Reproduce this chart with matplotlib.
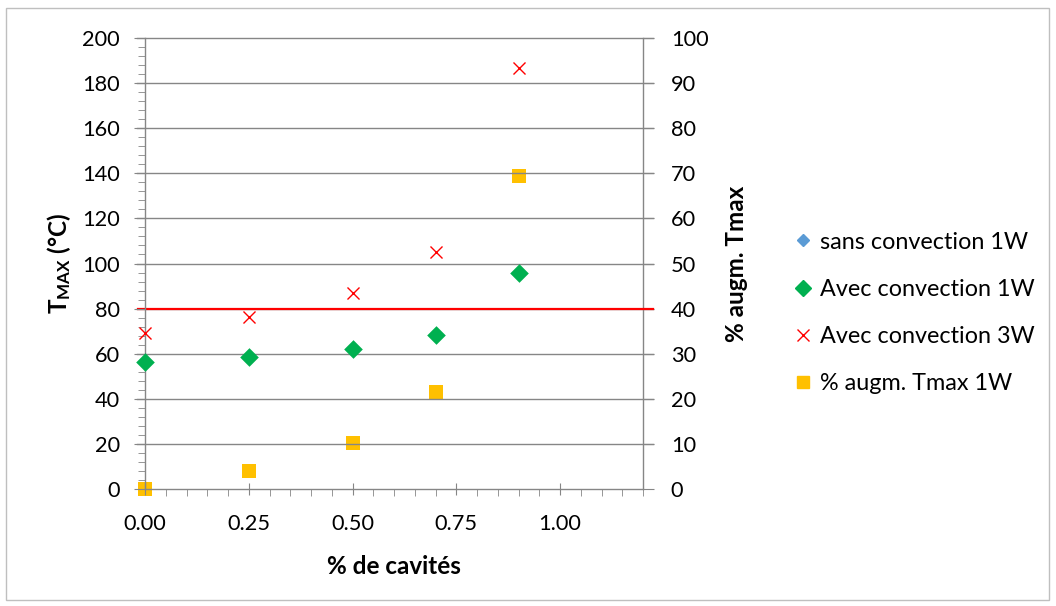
import matplotlib
matplotlib.use("Agg")
import matplotlib.pyplot as plt
from matplotlib.lines import Line2D
from matplotlib.patches import Rectangle
from matplotlib.ticker import MultipleLocator

plt.rcParams['font.family'] = ['Lato', 'DejaVu Sans']
plt.rcParams['mathtext.fontset'] = 'custom'
plt.rcParams['mathtext.rm'] = 'Lato'
plt.rcParams['mathtext.bf'] = 'Lato:bold'

# Data
cavites = [0.0, 0.25, 0.5, 0.7, 0.9]
sans_conv_1w = []            # not visible in chart
avec_conv_1w = [56.5, 58.7, 62.2, 68.4, 95.6]
avec_conv_3w = [69.3, 76.1, 86.9, 105.2, 186.7]
pct_augm_1w = [0.0, 4.1, 10.2, 21.4, 69.3]
limite = 80

x_ticks = [0.0, 0.25, 0.5, 0.75, 1.0]
x_ticklabels = ["0.00", "0.25", "0.50", "0.75", "1.00"]

W, H = 1056, 606
fig = plt.figure(figsize=(W / 100, H / 100), dpi=100)
fig.patches.append(Rectangle((6 / W, 1 - 600 / H), (1049 - 6) / W, (600 - 8) / H,
                             transform=fig.transFigure, fill=False,
                             edgecolor='#bfbfbf', lw=1.0))

ax = fig.add_axes([145 / W, 1 - 489 / H, (643 - 145) / W, (489 - 38) / H])
ax2 = ax.twinx()

gray = '#868686'
ax.set_xlim(0, 1.2)
ax.set_ylim(0, 200)
ax2.set_ylim(0, 100)

for sp in ['top']:
    ax.spines[sp].set_visible(False)
    ax2.spines[sp].set_visible(False)
for a in (ax, ax2):
    for sp in a.spines.values():
        sp.set_color(gray)
        sp.set_linewidth(1.0)
ax.spines['right'].set_visible(False)
ax2.spines['left'].set_visible(False)
ax2.spines['bottom'].set_visible(False)

ax.set_yticks(range(0, 201, 20))
ax.yaxis.set_minor_locator(MultipleLocator(4))
ax.set_xticks(x_ticks)
ax.set_xticklabels(x_ticklabels)
ax.xaxis.set_minor_locator(MultipleLocator(0.05))
ax2.set_yticks(range(0, 101, 10))

fs_tick = 15.7
ax.tick_params(axis='y', which='major', length=8, color=gray, labelsize=fs_tick, pad=10)
ax.tick_params(axis='y', which='minor', length=5, color=gray)
ax.tick_params(axis='x', which='major', length=8, color=gray, direction='inout',
               labelsize=fs_tick, pad=14)
ax.tick_params(axis='x', which='minor', length=5, color=gray)
ax2.tick_params(axis='y', which='major', length=8, color=gray, labelsize=fs_tick, pad=12)

# gridlines extending across tick regions
for v in range(20, 201, 20):
    ax.add_line(Line2D([-0.016, 1.02], [v, v], transform=ax.get_yaxis_transform(),
                       color=gray, lw=1.0, clip_on=False, zorder=0.5))

# red limit line
ax.add_line(Line2D([-0.014, 1.02], [limite, limite], transform=ax.get_yaxis_transform(),
                   color='#ff0000', lw=1.6, clip_on=False, zorder=1))

ax.scatter([], [], marker='D', s=40, color='#5b9bd5', label='sans convection 1W')
ax.scatter(cavites, avec_conv_1w, marker='D', s=90, color='#00b050', zorder=3,
           label='Avec convection 1W', clip_on=False, linewidths=0)
ax.scatter(cavites, avec_conv_3w, marker='x', s=75, color='#ff0000', zorder=3,
           label='Avec convection 3W', linewidths=1.0, clip_on=False)
ax2.scatter(cavites, pct_augm_1w, marker='s', s=110, color='#ffc000', zorder=3,
            label='% augm. Tmax 1W', clip_on=False, linewidths=0)

ax.set_ylabel(r'$\mathbf{T_{MAX}}$ (°C)', fontsize=17.5, fontweight='bold', labelpad=7)
ax2.set_ylabel('% augm. Tmax', fontsize=17.5, fontweight='bold', labelpad=12)
ax.set_xlabel('% de cavités', fontsize=17.5, fontweight='bold', labelpad=15)

ax.set_zorder(ax2.get_zorder() + 1)
ax.patch.set_visible(False)

handles = [
    Line2D([], [], marker='D', ls='none', color='#5b9bd5', markersize=6),
    Line2D([], [], marker='D', ls='none', color='#00b050', markersize=8.5),
    Line2D([], [], marker='x', ls='none', color='#ff0000', markersize=8, mew=1.0),
    Line2D([], [], marker='s', ls='none', color='#ffc000', markersize=8.5),
]
labels = ['sans convection 1W', 'Avec convection 1W', 'Avec convection 3W', '% augm. Tmax 1W']
fig.legend(handles, labels, loc='upper left', bbox_to_anchor=(780 / W, 1 - 220 / H),
           frameon=False, fontsize=16.8, handletextpad=0.2, labelspacing=1.12,
           handlelength=1.0, borderpad=0)

fig.savefig('out.png', dpi=100)
